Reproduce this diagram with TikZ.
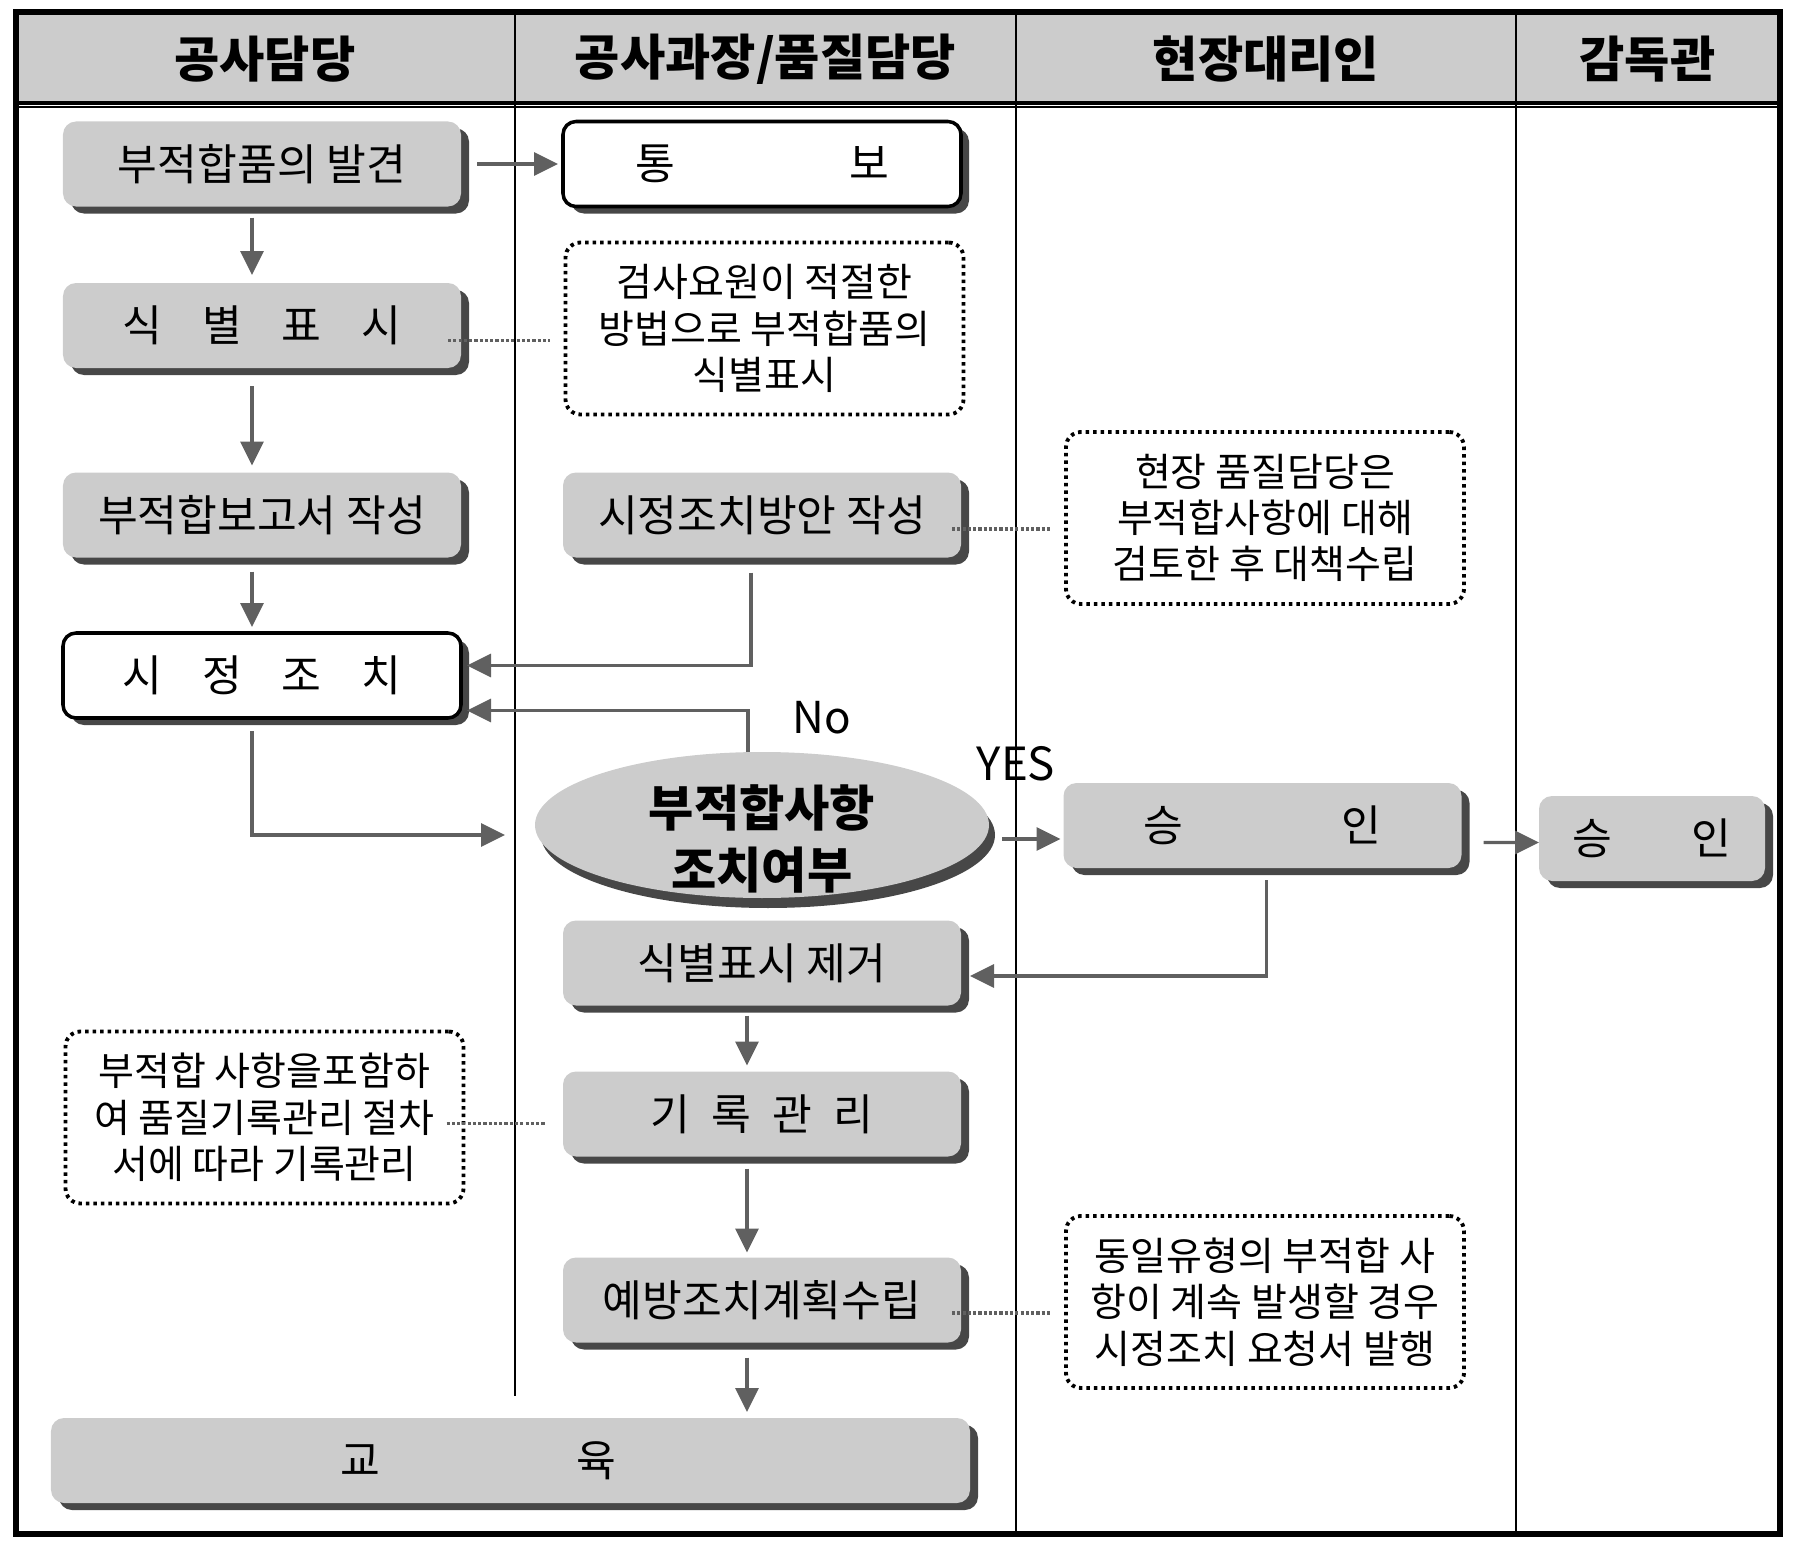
\documentclass[tikz,border=0pt]{standalone}
\usepackage{fontspec}
\setmainfont{Noto Sans CJK KR}
\usetikzlibrary{arrows.meta,shadows,shapes.geometric}
\definecolor{boxgray}{HTML}{CCCCCC}
\definecolor{linegray}{HTML}{606060}
\definecolor{shadegray}{HTML}{474747}

\begin{document}
\begin{tikzpicture}[
  font=\fontsize{12.3}{15}\selectfont,
  every node/.style={inner sep=0pt, outer sep=0pt},
  proc/.style={rectangle, rounded corners=1.3mm, minimum width=3.98cm, minimum height=0.85cm, fill=boxgray,
    drop shadow={shadow xshift=0.8mm, shadow yshift=-0.7mm, fill=shadegray, opacity=1}},
  act/.style={proc, fill=white, draw=black, line width=1pt},
  note/.style={rectangle, rounded corners=1.5mm, draw=black, line width=1.1pt, dash pattern=on 0.35mm off 0.4mm,
    minimum width=3.98cm, minimum height=1.72cm, align=center, font=\fontsize{11.1}{13.2}\selectfont},
  lane/.style={font=\fontsize{14}{16}\selectfont\bfseries},
  flow/.style={-{Triangle[length=2.4mm,width=2.3mm]}, draw=linegray, line width=0.9pt},
  link/.style={draw=linegray, line width=0.9pt, dash pattern=on 0.9pt off 0.6pt}
]
\useasboundingbox (0,0) rectangle (17.94,-15.5);

% lanes
\fill[boxgray] (0.16,-0.12) rectangle (17.80,-1.03);
\draw[line width=0.9pt] (0.16,-1.03) -- (17.80,-1.03);
\draw[line width=0.5pt] (0.16,-1.07) -- (17.80,-1.07);
\draw[line width=0.6pt] (5.15,-0.12) -- (5.15,-13.96);
\draw[line width=0.6pt] (10.16,-0.12) -- (10.16,-15.34);
\draw[line width=0.6pt] (15.16,-0.12) -- (15.16,-15.34);
\draw[line width=1.6pt] (0.16,-0.12) rectangle (17.80,-15.34);

\node[lane] (h1) at (2.65,-0.595)   {공사담당};
\node[lane] (h2) at (7.655,-0.595)  {공사과장/품질담당};
\node[lane] (h3) at (12.66,-0.595)  {현장대리인};
\node[lane] (h4) at (16.475,-0.595) {감독관};

% steps
\node[proc] (disc)   at (2.62,-1.64)  {부적합품의 발견};
\node[act]  (notify) at (7.62,-1.64)  {통\hspace{1.74cm}보};
\node[proc] (mark)   at (2.62,-3.255) {식\hspace{4mm}별\hspace{4mm}표\hspace{4mm}시};
\node[note] (marknote) at (7.645,-3.285) {검사요원이 적절한\\방법으로 부적합품의\\식별표시};
\node[proc] (report) at (2.62,-5.15)  {부적합보고서 작성};
\node[proc] (plan)   at (7.62,-5.15)  {시정조치방안 작성};
\node[note] (plannote) at (12.65,-5.18) {현장 품질담당은\\부적합사항에 대해\\검토한 후 대책수립};
\node[act]  (fix)    at (2.62,-6.755) {시\hspace{4mm}정\hspace{4mm}조\hspace{4mm}치};
\node[ellipse, fill=boxgray, minimum width=4.54cm, minimum height=1.46cm,
  drop shadow={shadow xshift=0.6mm, shadow yshift=-1mm, fill=shadegray, opacity=1},
  label={[font=\fontsize{14}{17.5}\selectfont\bfseries, align=center, yshift=-1.4mm]center:부적합사항\\조치여부}] (dec) at (7.62,-8.25) {};
\node[font=\fontsize{12.5}{15}\selectfont] (no)  at (8.22,-7.18)  {No};
\node[font=\fontsize{13}{15}\selectfont] (yes) at (10.16,-7.64) {YES};
\node[proc] (ok1)    at (12.625,-8.255) {승\hspace{1.58cm}인};
\node[proc, minimum width=2.26cm] (ok2) at (16.52,-8.385) {승\hspace{8mm}인};
\node[proc] (unmark) at (7.62,-9.63)  {식별표시 제거};
\node[proc] (rec)    at (7.62,-11.14) {기\hspace{2.1mm}록\hspace{2.1mm}관\hspace{2.1mm}리};
\node[note] (recnote) at (2.645,-11.175) {부적합 사항을포함하\\여 품질기록관리 절차\\서에 따라 기록관리};
\node[proc] (prev)   at (7.62,-13.0)  {예방조치계획수립};
\node[note] (prevnote) at (12.65,-13.02) {동일유형의 부적합 사\\항이 계속 발생할 경우\\시정조치 요청서 발행};
\node[proc, minimum width=9.19cm] (edu) at (5.105,-14.605) {교\hspace{1.97cm}육\hspace*{6.4mm}};

% arrows
\draw[flow, shorten <=1.6mm, shorten >=.5mm] (disc) -- (notify);
\draw[flow, shorten <=1.1mm, shorten >=.8mm] ([xshift=-1mm]disc.south) -- ([xshift=-1mm]mark.north);
\draw[flow, shorten <=1.8mm, shorten >=.7mm] ([xshift=-1mm]mark.south) -- ([xshift=-1mm]report.north);
\draw[flow, shorten <=1.4mm, shorten >=.6mm] ([xshift=-1mm]report.south) -- ([xshift=-1mm]fix.north);
\draw[flow, shorten <=1.5mm, shorten >=.6mm] ([xshift=-1.1mm]plan.south) |- ([yshift=1mm]fix.east);
\draw[flow, shorten >=.6mm] ([xshift=-1.4mm]dec.north) |- ([yshift=-3.5mm]fix.east);
\draw[flow, shorten <=1.3mm, shorten >=3mm] ([xshift=-1mm]fix.south) |- ([yshift=-1mm]dec.west);
\draw[flow, shorten <=1.3mm, shorten >=.3mm] ([yshift=-1.4mm]dec.east) -- ([yshift=-1.4mm]dec.east -| ok1.west);
\draw[flow, shorten <=2.2mm] ([yshift=-1.7mm]ok1.east) -- ([yshift=-.4mm]ok2.west);
\draw[flow, shorten <=1.2mm, shorten >=.9mm] ([xshift=.4mm]ok1.south) |- ([yshift=-1.3mm]unmark.east);
\draw[flow, shorten <=1mm, shorten >=.6mm] ([xshift=-1.5mm]unmark.south) -- ([xshift=-1.5mm]rec.north);
\draw[flow, shorten <=1.2mm, shorten >=.5mm] ([xshift=-1.5mm]rec.south) -- ([xshift=-1.5mm]prev.north);
\draw[flow, shorten <=1.5mm, shorten >=.6mm] ([xshift=-1.5mm]prev.south) -- ([xshift=-1.5mm]prev.south |- edu.north);

% notes
\draw[link] ([shift={(-1.3mm,-1.5mm)}]mark.east) -- ([shift={(-1.6mm,-1.5mm)}]mark.east -| marknote.west);
\draw[link] ([shift={(-0.9mm,-1.4mm)}]plan.east) -- ([shift={(-1.6mm,-1.4mm)}]plan.east -| plannote.west);
\draw[link] ([shift={(-1.7mm,-0.6mm)}]recnote.east) -- ([shift={(-1.8mm,-0.6mm)}]recnote.east -| rec.west);
\draw[link] ([shift={(-0.9mm,-1.3mm)}]prev.east) -- ([shift={(-1.6mm,-1.3mm)}]prev.east -| prevnote.west);
\end{tikzpicture}
\end{document}
